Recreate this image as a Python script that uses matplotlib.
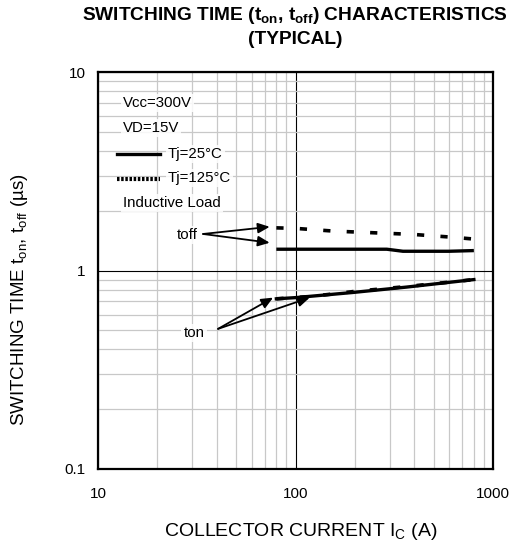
import matplotlib
matplotlib.use("Agg")
import matplotlib.pyplot as plt
import numpy as np

plt.rcParams['font.family'] = ['Liberation Sans', 'DejaVu Sans']
plt.rcParams['mathtext.default'] = 'regular'

# Data
ic_toff125 = [80, 100, 155, 245, 393, 630, 800]
toff125 = [1.64, 1.63, 1.58, 1.55, 1.52, 1.47, 1.44]
ic_toff25 = [80, 150, 290, 350, 600, 800]
toff25 = [1.28, 1.28, 1.28, 1.25, 1.25, 1.26]
ic_ton25 = [80, 100, 195, 365, 800]
ton25 = [0.72, 0.73, 0.775, 0.825, 0.90]
ic_ton125 = [80, 120, 200, 365, 800]
ton125 = [0.72, 0.74, 0.785, 0.83, 0.90]

xticks = [10, 100, 1000]
xticklabels = ['10', '100', '1000']
yticks = [0.1, 1, 10]
yticklabels = ['0.1', '1', '10']

fig = plt.figure(figsize=(5.21, 5.48), dpi=100)
ax = fig.add_axes([98/521, 79/548, 395/521, 397/548])
ax.set_xscale('log')
ax.set_yscale('log')
ax.set_xlim(10, 1000)
ax.set_ylim(0.1, 10)

from matplotlib.ticker import LogLocator, FixedLocator, NullFormatter
ax.xaxis.set_major_locator(FixedLocator(xticks))
ax.yaxis.set_major_locator(FixedLocator(yticks))
ax.set_xticklabels(xticklabels)
ax.set_yticklabels(yticklabels)
ax.xaxis.set_minor_locator(LogLocator(base=10, subs=np.arange(2, 10)))
ax.yaxis.set_minor_locator(LogLocator(base=10, subs=np.arange(2, 10)))
ax.xaxis.set_minor_formatter(NullFormatter())
ax.yaxis.set_minor_formatter(NullFormatter())
ax.grid(which='minor', color='#c8c8c8', linewidth=0.9)
ax.grid(which='major', color='black', linewidth=0.8)
ax.set_axisbelow(True)
ax.tick_params(which='both', length=0)
ax.tick_params(axis='x', pad=13, labelsize=11)
ax.tick_params(axis='y', pad=9, labelsize=11)
for s in ax.spines.values():
    s.set_linewidth(1.6)

# curves
ax.plot(ic_toff25, toff25, color='black', lw=2.4, solid_capstyle='butt')
ax.plot(ic_toff125, toff125, color='black', lw=2.6, dashes=(2, 4.5))
ax.plot(ic_ton25, ton25, color='black', lw=2.4)
ax.plot(ic_ton125, ton125, color='black', lw=2.6, dashes=(2, 4.5))

# legend/texts
fs = 10.8
bb = dict(facecolor='white', edgecolor='none', pad=1.5, alpha=0.85)
ax.text(0.063, 0.922, 'Vcc=300V', transform=ax.transAxes, fontsize=fs, va='center', bbox=bb)
ax.text(0.063, 0.859, 'VD=15V', transform=ax.transAxes, fontsize=fs, va='center', bbox=bb)
ax.plot([0.048, 0.157], [0.793, 0.793], transform=ax.transAxes, color='black', lw=2.4)
ax.text(0.177, 0.793, 'Tj=25°C', transform=ax.transAxes, fontsize=fs, va='center', bbox=bb)
ax.plot([0.048, 0.157], [0.731, 0.731], transform=ax.transAxes, color='black', lw=3, dashes=(0.6, 0.4))
ax.text(0.177, 0.733, 'Tj=125°C', transform=ax.transAxes, fontsize=fs, va='center', bbox=bb)
ax.text(0.063, 0.670, 'Inductive Load', transform=ax.transAxes, fontsize=fs, va='center', bbox=bb)

ax.text(0.225, 0.589, 'toff', transform=ax.transAxes, fontsize=fs, va='center', ha='center', bbox=bb)
for tip in [(74, 1.66), (74, 1.38)]:
    ax.annotate('', xy=tip, xycoords='data', xytext=(0.266, 0.592), textcoords='axes fraction',
                arrowprops=dict(arrowstyle='-|>,head_length=0.5,head_width=0.22', color='black', lw=1.3,
                                mutation_scale=14, shrinkA=0, shrinkB=0))
ax.text(0.243, 0.343, 'ton', transform=ax.transAxes, fontsize=fs, va='center', ha='center', bbox=bb)
for tip in [(77, 0.73), (118, 0.73)]:
    ax.annotate('', xy=tip, xycoords='data', xytext=(0.304, 0.353), textcoords='axes fraction',
                arrowprops=dict(arrowstyle='-|>,head_length=0.5,head_width=0.22', color='black', lw=1.3,
                                mutation_scale=14, shrinkA=0, shrinkB=0))

fig.text(295/521, 1 - 16/548, 'SWITCHING TIME (t$_{on}$, t$_{off}$) CHARACTERISTICS', ha='center', va='center',
         fontsize=13.8, fontweight='bold')
fig.text(295/521, 1 - 40/548, '(TYPICAL)', ha='center', va='center', fontsize=13.8, fontweight='bold')
fig.text(301/521, 1 - 532/548, 'COLLECTOR CURRENT I$_{C}$ (A)', ha='center', va='center', fontsize=14)
fig.text(20/521, 1 - 300/548, 'SWITCHING TIME t$_{on}$, t$_{off}$ (µs)', ha='center', va='center',
         fontsize=13.5, rotation=90)

fig.savefig('out.png', dpi=100)
